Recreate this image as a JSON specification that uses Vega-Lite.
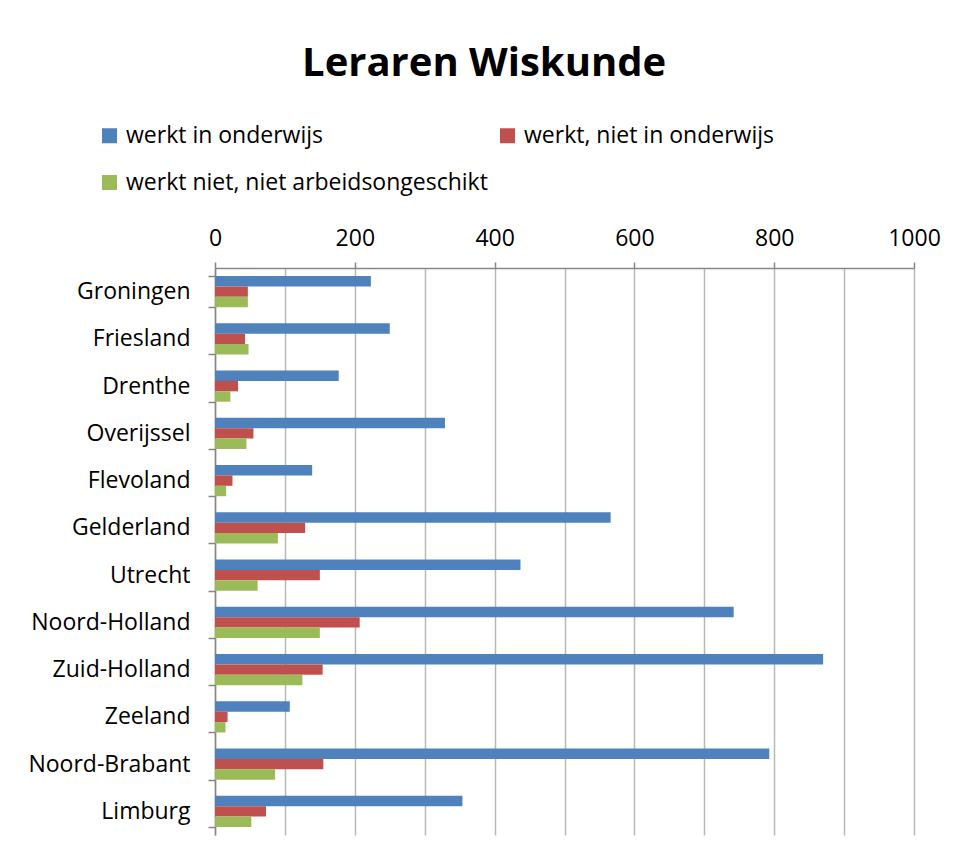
{
  "$schema": "https://vega.github.io/schema/vega-lite/v6.json",
  "width": 699,
  "height": 567,
  "autosize": {"type": "none"},
  "padding": {"left": 215, "top": 268, "right": 45, "bottom": 23},
  "background": "white",
  "title": {
    "text": "Leraren Wiskunde",
    "font": "Open Sans",
    "fontSize": 40,
    "fontWeight": "bold",
    "color": "#000000",
    "anchor": "middle",
    "frame": "bounds",
    "offset": 40
  },
  "data": {
    "values": [
      {"provincie": "Groningen", "status": "werkt in onderwijs", "aantal": 223},
      {"provincie": "Groningen", "status": "werkt, niet in onderwijs", "aantal": 47},
      {"provincie": "Groningen", "status": "werkt niet, niet arbeidsongeschikt", "aantal": 47},
      {"provincie": "Friesland", "status": "werkt in onderwijs", "aantal": 250},
      {"provincie": "Friesland", "status": "werkt, niet in onderwijs", "aantal": 43},
      {"provincie": "Friesland", "status": "werkt niet, niet arbeidsongeschikt", "aantal": 48},
      {"provincie": "Drenthe", "status": "werkt in onderwijs", "aantal": 177},
      {"provincie": "Drenthe", "status": "werkt, niet in onderwijs", "aantal": 33},
      {"provincie": "Drenthe", "status": "werkt niet, niet arbeidsongeschikt", "aantal": 22},
      {"provincie": "Overijssel", "status": "werkt in onderwijs", "aantal": 329},
      {"provincie": "Overijssel", "status": "werkt, niet in onderwijs", "aantal": 55},
      {"provincie": "Overijssel", "status": "werkt niet, niet arbeidsongeschikt", "aantal": 45},
      {"provincie": "Flevoland", "status": "werkt in onderwijs", "aantal": 139},
      {"provincie": "Flevoland", "status": "werkt, niet in onderwijs", "aantal": 25},
      {"provincie": "Flevoland", "status": "werkt niet, niet arbeidsongeschikt", "aantal": 16},
      {"provincie": "Gelderland", "status": "werkt in onderwijs", "aantal": 566},
      {"provincie": "Gelderland", "status": "werkt, niet in onderwijs", "aantal": 129},
      {"provincie": "Gelderland", "status": "werkt niet, niet arbeidsongeschikt", "aantal": 90},
      {"provincie": "Utrecht", "status": "werkt in onderwijs", "aantal": 437},
      {"provincie": "Utrecht", "status": "werkt, niet in onderwijs", "aantal": 150},
      {"provincie": "Utrecht", "status": "werkt niet, niet arbeidsongeschikt", "aantal": 61},
      {"provincie": "Noord-Holland", "status": "werkt in onderwijs", "aantal": 742},
      {"provincie": "Noord-Holland", "status": "werkt, niet in onderwijs", "aantal": 207},
      {"provincie": "Noord-Holland", "status": "werkt niet, niet arbeidsongeschikt", "aantal": 150},
      {"provincie": "Zuid-Holland", "status": "werkt in onderwijs", "aantal": 870},
      {"provincie": "Zuid-Holland", "status": "werkt, niet in onderwijs", "aantal": 154},
      {"provincie": "Zuid-Holland", "status": "werkt niet, niet arbeidsongeschikt", "aantal": 125},
      {"provincie": "Zeeland", "status": "werkt in onderwijs", "aantal": 107},
      {"provincie": "Zeeland", "status": "werkt, niet in onderwijs", "aantal": 18},
      {"provincie": "Zeeland", "status": "werkt niet, niet arbeidsongeschikt", "aantal": 15},
      {"provincie": "Noord-Brabant", "status": "werkt in onderwijs", "aantal": 793},
      {"provincie": "Noord-Brabant", "status": "werkt, niet in onderwijs", "aantal": 155},
      {"provincie": "Noord-Brabant", "status": "werkt niet, niet arbeidsongeschikt", "aantal": 86},
      {"provincie": "Limburg", "status": "werkt in onderwijs", "aantal": 354},
      {"provincie": "Limburg", "status": "werkt, niet in onderwijs", "aantal": 73},
      {"provincie": "Limburg", "status": "werkt niet, niet arbeidsongeschikt", "aantal": 52}
    ]
  },
  "mark": {"type": "bar"},
  "encoding": {
    "y": {
      "field": "provincie",
      "type": "nominal",
      "sort": ["Groningen", "Friesland", "Drenthe", "Overijssel", "Flevoland", "Gelderland", "Utrecht", "Noord-Holland", "Zuid-Holland", "Zeeland", "Noord-Brabant", "Limburg"],
      "scale": {"paddingInner": 0.34, "paddingOuter": 0.17},
      "axis": {
        "title": null,
        "tickBand": "extent",
        "tickSize": 7,
        "tickColor": "#868686",
        "tickWidth": 1.5,
        "domainColor": "#868686",
        "domainWidth": 1.5,
        "labelFont": "Open Sans",
        "labelFontSize": 23,
        "labelColor": "#000000",
        "labelPadding": 18,
        "labelLimit": 300,
        "grid": false
      }
    },
    "x": {
      "field": "aantal",
      "type": "quantitative",
      "scale": {"domain": [0, 1000], "nice": false},
      "axis": {
        "title": null,
        "orient": "top",
        "values": [0, 100, 200, 300, 400, 500, 600, 700, 800, 900, 1000],
        "labelExpr": "datum.value % 200 === 0 ? datum.label : ''",
        "format": "d",
        "tickOpacity": {"condition": {"test": "datum.value % 200 === 0", "value": 1}, "value": 0},
        "tickSize": 6,
        "tickColor": "#868686",
        "tickWidth": 1.5,
        "domainColor": "#868686",
        "domainWidth": 1.5,
        "grid": true,
        "gridColor": "#b8b8b8",
        "gridWidth": 1.5,
        "labelFont": "Open Sans",
        "labelFontSize": 23,
        "labelColor": "#000000",
        "labelPadding": 12,
        "labelFlush": false
      }
    },
    "yOffset": {
      "field": "status",
      "type": "nominal",
      "sort": ["werkt in onderwijs", "werkt, niet in onderwijs", "werkt niet, niet arbeidsongeschikt"]
    },
    "color": {
      "field": "status",
      "type": "nominal",
      "scale": {
        "domain": ["werkt in onderwijs", "werkt, niet in onderwijs", "werkt niet, niet arbeidsongeschikt"],
        "range": ["#4F81BD", "#C0504D", "#9BBB59"]
      },
      "legend": {
        "title": null,
        "orient": "none",
        "direction": "horizontal",
        "legendX": -117,
        "legendY": -144,
        "columns": 2,
        "columnPadding": 8,
        "rowPadding": 23,
        "symbolType": "square",
        "symbolSize": 225,
        "symbolStrokeWidth": 0,
        "labelFont": "Open Sans",
        "labelFontSize": 23,
        "labelColor": "#000000",
        "labelOffset": 5,
        "labelLimit": 500
      }
    }
  },
  "config": {"view": {"stroke": null}}
}
